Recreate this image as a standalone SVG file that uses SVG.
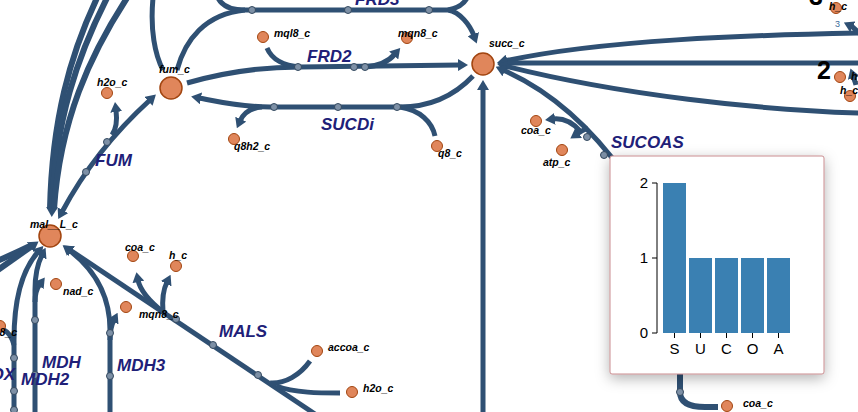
<svg xmlns="http://www.w3.org/2000/svg" width="858" height="412" viewBox="0 0 858 412">
<defs>
<marker id="arr" viewBox="0 -6 10 12" refX="2" refY="0" markerWidth="10" markerHeight="12" markerUnits="userSpaceOnUse" orient="auto-start-reverse">
<path d="M0,-6 L10,0 L0,6 z" fill="#2f5073"/>
</marker>
<filter id="shadow" x="-20%" y="-20%" width="140%" height="140%">
<feDropShadow dx="0" dy="4" stdDeviation="7" flood-color="#000" flood-opacity="0.3"/>
</filter>
<style>
.r{fill:none;stroke:#2f5073;stroke-width:5;stroke-linecap:butt}
.rt{fill:none;stroke:#2f5073;stroke-width:6}
.a{marker-end:url(#arr)}
.mk{fill:#7d90a6;stroke:#34495f;stroke-width:1}
.mb{fill:#e0865b;stroke:#a24510;stroke-width:1.5}
.ms{fill:#e0865b;stroke:#a24510;stroke-width:1}
.ml{font-family:"Liberation Sans",Arial,sans-serif;font-weight:bold;font-style:italic;font-size:10.5px;fill:#000}
.rl{font-family:"Liberation Sans",Arial,sans-serif;font-weight:bold;font-style:italic;font-size:17px;fill:#202078}
.big{font-family:"Liberation Sans",Arial,sans-serif;font-weight:bold;font-size:25px;fill:#000}
.ax{font-family:"Liberation Sans",Arial,sans-serif;font-size:15px;fill:#000}
.bar{fill:#3a80b2}
</style>
</defs>

<g id="connectors">
<path class="rt" d="M97,-2 C70,55 52,120 50,209"/>
<path class="rt a" d="M107,-2 C78,55 55,120 52,209"/>
<path class="rt" d="M127,-2 C90,55 60,120 54,209"/>
<path class="rt" d="M-5,262 Q18,252 32,245"/>
<path class="rt a" d="M-5,272 Q15,258 32,246"/>
<path class="r" d="M153,-2 C150,30 155,55 163,70"/>
<path class="r a" d="M177,70 C185,40 205,14 245,10 L448,10 C460,12 470,25 474,36"/>
<path class="r" d="M218,-2 C222,6 232,10 245,10"/>
<path class="r" d="M448,10 C458,8 464,4 467,-2"/>
<path class="r a" d="M187,83 C225,72 265,67 300,67 L460,65"/>
<path class="r" d="M267,48 C272,60 285,66 300,67"/>
<path class="r a" d="M365,67 C380,66 389,61 395,54"/>
<path class="r a" d="M473,76 C455,95 430,107 400,107 L270,107 C240,107 215,101 199,98"/>
<path class="r a" d="M262,107 C250,108 243,114 240,121"/>
<path class="r" d="M400,107 C420,110 432,122 435,136"/>
<path class="r a" d="M62,212 Q95,150 150,100" style="marker-start:url(#arr)"/>
<path class="r a" d="M112,135 C117,128 117,118 116,110"/>
<path class="r a" d="M14,414 L14,340 C14,300 22,270 38,252"/>
<path class="r" d="M14,345 C12,337 8,332 4,330"/>
<path class="r a" d="M35,414 L35,290 C35,275 38,263 42,255"/>
<path class="r a" d="M35,302 C35,294 37,288 40,284"/>
<path class="r a" d="M110,414 L110,330 C110,300 98,272 69,250"/>
<path class="r a" d="M110,340 C110,332 111,326 114,320"/>
<path class="r a" d="M315,414 L70,250"/>
<path class="r a" d="M163,312 C148,300 140,290 138,280"/>
<path class="r a" d="M163,312 C162,300 163,290 167,282"/>
<path class="r" d="M270,383 C285,384 300,375 310,361"/>
<path class="r" d="M276,386 C295,393 320,393 340,393"/>
<path class="r a" d="M860,33 C750,35 600,40 505,61"/>
<path class="r a" d="M860,63 L505,63"/>
<path class="r a" d="M860,113 C760,110 620,95 505,66"/>
<path class="r a" d="M625,175 C600,140 560,95 503,70"/>
<path class="r a" d="M580,131 C572,122 562,118 553,119"/>
<path class="r a" d="M588,128 C583,130 580,132 577,134"/>
<path class="r a" d="M483,414 L483,88"/>
<path class="r a" d="M860,34 C856,30 853,27 851,26"/>
<path class="r a" d="M856,85 C855,81 854,79 853,76"/>
<path class="rt" d="M680,372 L680,392 C680,403 690,407 705,407 L718,407"/>

<circle class="mk" cx="252" cy="10" r="3.5"/>
<circle class="mk" cx="348" cy="10" r="3.5"/>
<circle class="mk" cx="429" cy="10" r="3.5"/>
<circle class="mk" cx="298" cy="67" r="3.5"/>
<circle class="mk" cx="354" cy="67" r="3.5"/>
<circle class="mk" cx="365" cy="67" r="3.5"/>
<circle class="mk" cx="274" cy="107" r="3.5"/>
<circle class="mk" cx="338" cy="107" r="3.5"/>
<circle class="mk" cx="397" cy="107" r="3.5"/>
<circle class="mk" cx="86" cy="172" r="3.5"/>
<circle class="mk" cx="107" cy="142" r="3.5"/>
<circle class="mk" cx="14" cy="358" r="3.5"/>
<circle class="mk" cx="14" cy="391" r="3.5"/>
<circle class="mk" cx="14" cy="410" r="3.5"/>
<circle class="mk" cx="35" cy="320" r="3.5"/>
<circle class="mk" cx="35" cy="375" r="3.5"/>
<circle class="mk" cx="110" cy="333" r="3.5"/>
<circle class="mk" cx="110" cy="376" r="3.5"/>
<circle class="mk" cx="176" cy="319" r="3.5"/>
<circle class="mk" cx="213" cy="345" r="3.5"/>
<circle class="mk" cx="258" cy="375" r="3.5"/>
<circle class="mk" cx="587" cy="137" r="3.5"/>
<circle class="mk" cx="604" cy="155" r="3.5"/>
<circle class="mk" cx="680" cy="392" r="3.5"/>
</g>

<g id="succ_c"><circle class="mb" cx="483" cy="64" r="11"/><text class="ml" x="489" y="47">succ_c</text></g>
<g id="fum_c"><circle class="mb" cx="171" cy="88" r="11"/><text class="ml" x="159" y="73">fum_c</text></g>
<g id="mal__L_c"><circle class="mb" cx="50" cy="236" r="11"/><text class="ml" x="30" y="228">mal__L_c</text></g>
<g id="h2o_c_1"><circle class="ms" cx="107" cy="93" r="5.5"/><text class="ml" x="97" y="86">h2o_c</text></g>
<g id="mql8_c"><circle class="ms" cx="263" cy="37" r="5.5"/><text class="ml" x="274" y="37">mql8_c</text></g>
<g id="mqn8_c_1"><circle class="ms" cx="407" cy="38" r="5.5"/><text class="ml" x="398" y="37">mqn8_c</text></g>
<g id="q8h2_c"><circle class="ms" cx="234" cy="139" r="5.5"/><text class="ml" x="234" y="150">q8h2_c</text></g>
<g id="q8_c"><circle class="ms" cx="437" cy="146" r="5.5"/><text class="ml" x="438" y="157">q8_c</text></g>
<g id="coa_c_1"><circle class="ms" cx="536" cy="121" r="5.5"/><text class="ml" x="521" y="134">coa_c</text></g>
<g id="atp_c"><circle class="ms" cx="562" cy="150" r="5.5"/><text class="ml" x="543" y="166">atp_c</text></g>
<g id="coa_c_2"><circle class="ms" cx="133" cy="256" r="5.5"/><text class="ml" x="125" y="251">coa_c</text></g>
<g id="h_c_1"><circle class="ms" cx="176" cy="266" r="5.5"/><text class="ml" x="169" y="259">h_c</text></g>
<g id="nad_c"><circle class="ms" cx="56" cy="284" r="5.5"/><text class="ml" x="63" y="295">nad_c</text></g>
<g id="mqn8_c_2"><circle class="ms" cx="126" cy="307" r="5.5"/><text class="ml" x="139" y="318">mqn8_c</text></g>
<g id="mqn8_c_3"><circle class="ms" cx="0" cy="326" r="5.5"/><text class="ml" x="17" y="336" text-anchor="end">mqn8_c</text></g>
<g id="accoa_c"><circle class="ms" cx="317" cy="351" r="5.5"/><text class="ml" x="328" y="351">accoa_c</text></g>
<g id="h2o_c_2"><circle class="ms" cx="352" cy="392" r="5.5"/><text class="ml" x="363" y="392">h2o_c</text></g>
<g id="coa_c_3"><circle class="ms" cx="727" cy="406" r="5.5"/><text class="ml" x="743" y="407">coa_c</text></g>
<g id="h_c_2"><circle class="ms" cx="836" cy="8" r="5.5"/><text class="ml" x="829" y="10">h_c</text></g>
<g id="h_c_3"><circle class="ms" cx="840" cy="77" r="5.5"/><text class="ml" x="851" y="80">h_c</text></g>
<g id="h_c_4"><circle class="ms" cx="850" cy="96" r="5.5"/><text class="ml" x="840" y="94">h_c</text></g>

<g id="labels">
<text class="rl" x="355" y="5">FRD3</text>
<text class="rl" x="307" y="62">FRD2</text>
<text class="rl" x="321" y="130">SUCDi</text>
<text class="rl" x="95" y="166">FUM</text>
<text class="rl" x="219" y="337">MALS</text>
<text class="rl" x="42" y="368">MDH</text>
<text class="rl" x="21" y="385">MDH2</text>
<text class="rl" x="117" y="371">MDH3</text>
<text class="rl" x="15" y="380" text-anchor="end">MOX</text>
<text class="rl" x="611" y="148">SUCOAS</text>
<text class="big" x="809" y="5">3</text>
<text class="big" x="817" y="79">2</text>
<text x="835" y="27" style="font-family:'Liberation Sans',Arial,sans-serif;font-size:9px;fill:#3d6a9a">3</text>
</g>

<g id="tooltip">
<rect x="610" y="156" width="214" height="218" rx="2" fill="#fff" stroke="#c98c8f" stroke-width="1" filter="url(#shadow)"/>
<rect class="bar" x="663" y="183" width="23" height="150"/>
<rect class="bar" x="689" y="258" width="23" height="75"/>
<rect class="bar" x="715" y="258" width="23" height="75"/>
<rect class="bar" x="741" y="258" width="23" height="75"/>
<rect class="bar" x="767" y="258" width="23" height="75"/>
<path d="M652,183 H657 V333 H652 M652,258 H657" fill="none" stroke="#000" stroke-width="1"/>
<path d="M674.5,333 V338 M700.5,333 V338 M726.5,333 V338 M752.5,333 V338 M778.5,333 V338" fill="none" stroke="#000" stroke-width="1"/>
<text class="ax" x="648" y="188" text-anchor="end">2</text>
<text class="ax" x="648" y="263" text-anchor="end">1</text>
<text class="ax" x="648" y="338" text-anchor="end">0</text>
<text class="ax" x="674.5" y="354" text-anchor="middle">S</text>
<text class="ax" x="700.5" y="354" text-anchor="middle">U</text>
<text class="ax" x="726.5" y="354" text-anchor="middle">C</text>
<text class="ax" x="752.5" y="354" text-anchor="middle">O</text>
<text class="ax" x="778.5" y="354" text-anchor="middle">A</text>
</g>
</svg>
